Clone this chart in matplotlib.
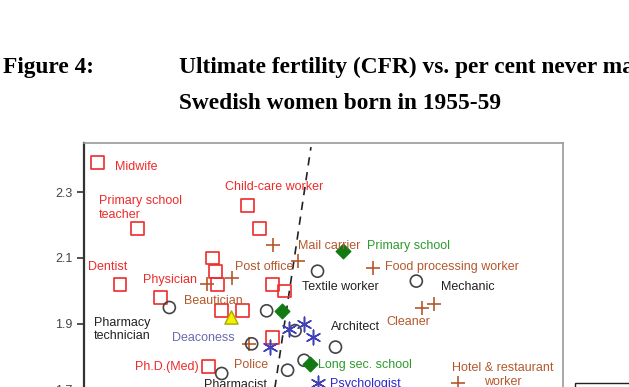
import matplotlib
matplotlib.use("Agg")
import matplotlib.pyplot as plt
from matplotlib.patches import Rectangle

# ---------------- data ----------------
# red open squares
sq_x = [10.9, 13.6, 20.9, 21.7, 12.4, 18.6, 18.8, 18.9, 15.1, 19.2, 20.6, 22.6, 23.4, 22.6, 18.3]
sq_y = [2.39, 2.19, 2.26, 2.19, 2.02, 2.10, 2.06, 2.02, 1.98, 1.94, 1.94, 2.02, 2.00, 1.86, 1.77]
# brown plus
pl_x = [22.6, 24.3, 18.2, 19.9, 29.3, 32.6, 33.4, 21.0, 35.0]
pl_y = [2.14, 2.09, 2.02, 2.04, 2.07, 1.95, 1.96, 1.84, 1.72]
# gray open circles
ci_x = [15.7, 22.2, 25.6, 32.2, 24.1, 26.8, 24.7, 23.6, 21.2, 19.2]
ci_y = [1.95, 1.94, 2.06, 2.03, 1.88, 1.83, 1.79, 1.76, 1.84, 1.75]
# green filled diamonds
di_x = [27.3, 23.2, 25.1]
di_y = [2.12, 1.94, 1.78]
# blue asterisks
as_x = [22.4, 23.7, 24.7, 25.3, 25.6]
as_y = [1.83, 1.885, 1.90, 1.86, 1.72]
# yellow triangle
tr_x = [19.8]
tr_y = [1.92]
# dashed line (two points)
line_x = [21.41, 25.16]
line_y = [1.30, 2.436]

# labels: text, x, y, colour
labels = [
    ("Midwife", 12.07, 2.376, "red"),
    ("Primary school\nteacher", 11.0, 2.252, "red"),
    ("Child-care worker", 19.42, 2.315, "red"),
    ("Dentist", 10.27, 2.073, "red"),
    ("Physician", 13.94, 2.033, "red"),
    ("Ph.D.(Med)", 13.41, 1.770, "red"),
    ("Post office", 20.09, 2.073, "brown"),
    ("Mail carrier", 24.30, 2.136, "brown"),
    ("Food processing worker", 30.11, 2.073, "brown"),
    ("Beautician", 16.68, 1.970, "brown"),
    ("Cleaner", 30.17, 1.906, "brown"),
    ("Police", 20.02, 1.776, "brown"),
    ("Primary school", 28.90, 2.136, "green"),
    ("Long sec. school", 25.63, 1.776, "green"),
    ("Textile worker", 24.56, 2.012, "black"),
    ("Mechanic", 33.85, 2.012, "black"),
    ("Pharmacy\ntechnician", 10.67, 1.883, "black"),
    ("Architect", 26.50, 1.891, "black"),
    ("Pharmacist", 18.02, 1.715, "black"),
    ("Deaconess", 15.88, 1.858, "slate"),
    ("Psychologist", 26.43, 1.718, "blue"),
]
hotel_label = ("Hotel & restaurant\nworker", 37.99, 1.745)

yticks = [1.7, 1.9, 2.1, 2.3]

# ---------------- style ----------------
colors = {
    "red": "#ee2b2b",
    "brown": "#b4582c",
    "green": "#2e9a2e",
    "black": "#222222",
    "slate": "#6a6aae",
    "blue": "#2a2ad0",
}
plt.rcParams['font.family'] = ['Liberation Sans', 'DejaVu Sans']

W, H = 629, 387
fig = plt.figure(figsize=(W / 100, H / 100), dpi=100)

# axes in pixel geometry (axes extends below the visible area)
ax_left, ax_right, ax_top = 84, 563, 143
ylim = (1.30, 2.3 + (192 - 143) / 330)
px_per_unit = 330
ax_bottom = ax_top + (ylim[1] - ylim[0]) * px_per_unit
ax = fig.add_axes([ax_left / W, 1 - ax_bottom / H, (ax_right - ax_left) / W, (ax_bottom - ax_top) / H])
ax.set_xlim(10, 10 + (ax_right - ax_left) / 14.97)
ax.set_ylim(*ylim)

ax.plot(line_x, line_y, ls=(0, (5, 4)), color="#222222", lw=1.2, zorder=1)

ax.scatter(sq_x, sq_y, marker="s", s=85, facecolors="none", edgecolors=colors["red"], linewidths=1.2, zorder=3)
ax.scatter(pl_x, pl_y, marker="+", s=110, color="#b4582c", linewidths=1.2, zorder=3)
ax.scatter(ci_x, ci_y, marker="o", s=75, facecolors="none", edgecolors="#444444", linewidths=1.2, zorder=3)
ax.scatter(di_x, di_y, marker="D", s=55, color="#137a13", zorder=4)
ax.scatter(as_x, as_y, marker=(6, 2, 0), s=110, color="#4040b8", linewidths=1.1, zorder=3)
ax.scatter(tr_x, tr_y, marker="^", s=90, facecolors="#f2f200", edgecolors="#a8a800", linewidths=1.0, zorder=4)

for txt, x, y, c in labels:
    ax.text(x, y, txt, color=colors[c], fontsize=9, ha="left", va="center", zorder=5,
            linespacing=1.15)
ax.text(hotel_label[1], hotel_label[2], hotel_label[0], color=colors["brown"], fontsize=9,
        ha="center", va="center", multialignment="center", linespacing=1.15, zorder=5)

ax.set_yticks(yticks)
ax.set_yticklabels([f"{v:.1f}" for v in yticks])
ax.set_xticks([])
ax.tick_params(axis="y", direction="out", length=5, width=1.2, color="#333333",
               labelsize=9, labelcolor="#444444", pad=3)
ax.spines["left"].set_color("#333333")
ax.spines["left"].set_linewidth(1.6)
for s in ("top", "right", "bottom"):
    ax.spines[s].set_color("#9a9a9a")
    ax.spines[s].set_linewidth(1.2)

# title block
tfont = dict(family="Liberation Serif", fontweight="bold", fontsize=16.8, color="black")
fig.text(3 / W, 1 - 73 / H, "Figure 4:", ha="left", va="baseline", **tfont)
fig.text(179 / W, 1 - 73 / H, "Ultimate fertility (CFR) vs. per cent never married,", ha="left", va="baseline", **tfont)
fig.text(179 / W, 1 - 109 / H, "Swedish women born in 1955-59", ha="left", va="baseline", **tfont)

# legend box corner at bottom right (cropped)
fig.add_artist(Rectangle((575 / W, -0.2), 0.5, 0.2 + 1 - 383 / H, transform=fig.transFigure,
                         fill=False, ec="#222222", lw=1.0))

fig.savefig("out.png", dpi=100)
